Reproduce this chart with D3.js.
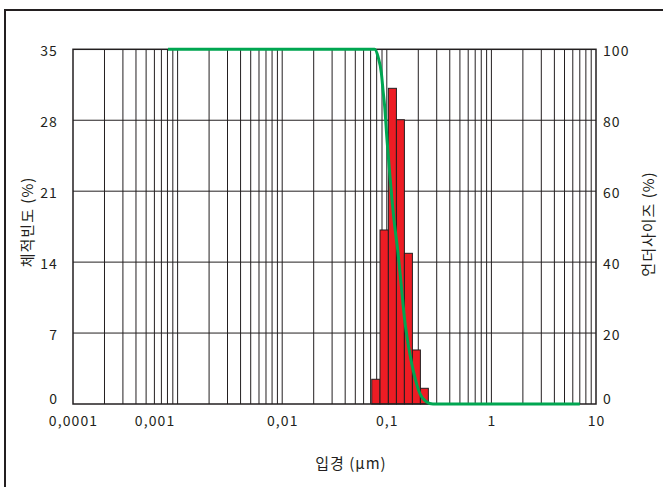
<!DOCTYPE html>
<html>
<head>
<meta charset="utf-8">
<script src="https://cdn.jsdelivr.net/npm/d3@7"></script>
<style>
  html, body { margin: 0; padding: 0; background: #fff; }
  svg { display: block; }
  text { font-family: "Noto Sans CJK KR", "Noto Sans", sans-serif; fill: #231f20; }
</style>
</head>
<body>
<svg id="chart" width="663" height="487"></svg>
<script>
// ---- data ----
const binEdges = [0.0718, 0.0861, 0.1035, 0.1236, 0.1473, 0.1757, 0.2095, 0.2496];
const frequency = [2.44, 17.17, 31.15, 28.05, 14.87, 5.33, 1.55];
const curveSize = [0.00081, 0.0766, 0.0824, 0.0888, 0.0920, 0.0955, 0.1005, 0.1066, 0.1122, 0.1172, 0.1280, 0.1378, 0.1482, 0.1655, 0.1847, 0.2061, 0.2387, 0.2761, 7.0];
const curveUnder = [100, 100, 97.9, 93.2, 88.5, 83.8, 74.4, 65.1, 57.5, 51.9, 42.6, 33.1, 23.7, 14.4, 7.7, 3.1, 0.65, 0, 0];
const xTicks = [0.0001, 0.001, 0.01, 0.1, 1, 10];
const xTickLabels = ["0,0001", "0,001", "0,01", "0,1", "1", "10"];
const yLeftTicks = [0, 7, 14, 21, 28, 35];
const yRightTicks = [0, 20, 40, 60, 80, 100];
const xTitle = "입경 (μm)";
const yLeftTitle = "체적빈도 (%)";
const yRightTitle = "언더사이즈 (%)";

// ---- layout ----
const svg = d3.select("#chart");
const L = 73, R = 596, T = 49.3, B = 404;

const x = d3.scaleLog().domain([0.0001, 10]).range([L, R]);
const yL = d3.scaleLinear().domain([0, 35]).range([B, T]);
const yR = d3.scaleLinear().domain([0, 100]).range([B, T]);

// outer frame
svg.append("rect").attr("x", 5).attr("y", 10).attr("width", 670).attr("height", 490)
  .attr("fill", "none").attr("stroke", "#231f20").attr("stroke-width", 2);

// vertical grid (log minor + major)
const gridX = [];
for (let e = -4; e < 1; e++) {
  for (let m = 1; m < 10; m++) gridX.push(m * Math.pow(10, e));
}
svg.append("g").selectAll("line").data(gridX.filter(v => v > 0.0001 && v < 10)).join("line")
  .attr("x1", d => x(d)).attr("x2", d => x(d))
  .attr("y1", T).attr("y2", B)
  .attr("stroke", "#231f20").attr("stroke-width", 1);

// horizontal grid
svg.append("g").selectAll("line").data(yLeftTicks.filter(v => v > 0 && v < 35)).join("line")
  .attr("x1", L).attr("x2", R)
  .attr("y1", d => yL(d)).attr("y2", d => yL(d))
  .attr("stroke", "#231f20").attr("stroke-width", 1);

// bars
const bins = frequency.map((v, i) => ({ x0: binEdges[i], x1: binEdges[i + 1], v }));
svg.append("g").selectAll("rect").data(bins).join("rect")
  .attr("x", d => x(d.x0)).attr("width", d => x(d.x1) - x(d.x0))
  .attr("y", d => yL(d.v)).attr("height", d => B - yL(d.v))
  .attr("fill", "#ed1c24").attr("stroke", "#231f20").attr("stroke-width", 1);

// plot border
svg.append("rect").attr("x", L).attr("y", T).attr("width", R - L).attr("height", B - T)
  .attr("fill", "none").attr("stroke", "#231f20").attr("stroke-width", 1.5);

// cumulative curve
const pts = curveSize.map((s, i) => [s, curveUnder[i]]);
svg.append("path").datum(pts)
  .attr("d", d3.line().x(d => x(d[0])).y(d => yR(d[1])).curve(d3.curveMonotoneX))
  .attr("fill", "none").attr("stroke", "#00a651").attr("stroke-width", 3);

// axes
const fs = 14, ls = 1.1;
function styleTicks(g) {
  g.select(".domain").remove();
  g.selectAll("text").attr("font-size", fs).attr("letter-spacing", ls)
    .style("font-family", "'Noto Sans CJK KR', sans-serif");
}
const gx = svg.append("g").attr("transform", `translate(0,${B})`)
  .call(d3.axisBottom(x).tickValues(xTicks).tickFormat((d, i) => xTickLabels[i]).tickSize(0).tickPadding(12));
styleTicks(gx);
gx.selectAll(".tick text").filter(d => d === 0.001).attr("dx", -23);

const gl = svg.append("g").attr("transform", `translate(${L},0)`)
  .call(d3.axisLeft(yL).tickValues(yLeftTicks).tickSize(0).tickPadding(15));
styleTicks(gl);
gl.selectAll(".tick text").attr("dy", d => d === 0 ? "-0.05em" : "0.45em");

const gr = svg.append("g").attr("transform", `translate(${R},0)`)
  .call(d3.axisRight(yR).tickValues(yRightTicks).tickSize(0).tickPadding(7));
styleTicks(gr);
gr.selectAll(".tick text").attr("dy", d => d === 0 ? "-0.05em" : "0.45em");

// titles
svg.append("text").attr("x", 351).attr("y", 469).attr("text-anchor", "middle")
  .attr("font-size", 15).attr("letter-spacing", 1).text(xTitle);
svg.append("text").attr("transform", "translate(33,222) rotate(-90)").attr("text-anchor", "middle")
  .attr("font-size", 15).attr("letter-spacing", 1).text(yLeftTitle);
svg.append("text").attr("transform", "translate(654,224) rotate(-90)").attr("text-anchor", "middle")
  .attr("font-size", 15).attr("letter-spacing", 1).text(yRightTitle);
</script>
</body>
</html>
